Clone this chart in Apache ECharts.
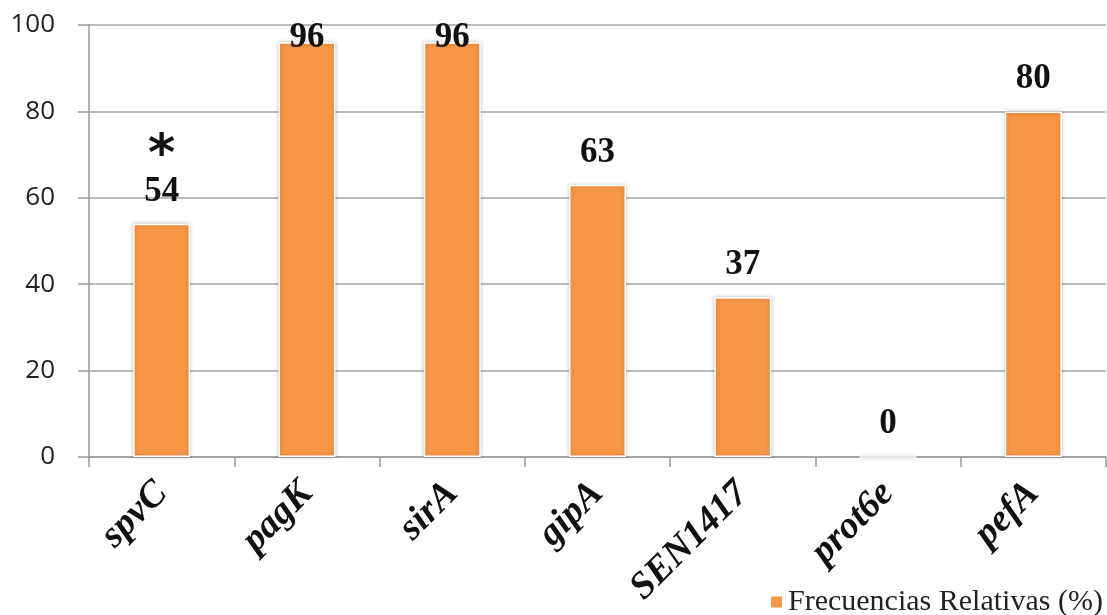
<!DOCTYPE html>
<html>
<head>
<meta charset="utf-8">
<script src="https://cdn.jsdelivr.net/npm/echarts@6/dist/echarts.min.js"></script>
<style>
  html, body { margin: 0; padding: 0; background: #ffffff; }
  #chart { width: 1107px; height: 615px; }
</style>
</head>
<body>
<div id="chart"></div>
<script>
// Virulence genes and their relative frequencies (%)
const genes = ['spvC', 'pagK', 'sirA', 'gipA', 'SEN1417', 'prot6e', 'pefA'];
const frequencies = [54, 96, 96, 63, 37, 0, 80];
const yTicks = [0, 20, 40, 60, 80, 100];
const seriesName = 'Frecuencias Relativas (%)';
const markedGenes = ['spvC'];   // genes flagged with an asterisk

const GRID_TOP = 25, GRID_BOTTOM = 158, CHART_H = 615;
const plotH = CHART_H - GRID_TOP - GRID_BOTTOM;
const yMax = yTicks[yTicks.length - 1];
const LABEL_GAP = 32;   // distance from bar top to label centre

// Keep value labels inside the plotting area (nudged down when near the top)
const barData = frequencies.map(function (v) {
  const topPx = GRID_TOP + plotH * (1 - v / yMax);
  const wanted = topPx - LABEL_GAP;
  const minCentre = GRID_TOP + 13;
  const shift = wanted < minCentre ? minCentre - wanted : 0;
  return shift ? { value: v, label: { offset: [0, shift] } } : { value: v };
});

const chart = echarts.init(document.getElementById('chart'));
chart.setOption({
  backgroundColor: '#ffffff',
  animation: false,
  grid: { left: 89, right: 1, top: GRID_TOP, bottom: GRID_BOTTOM, containLabel: false },
  legend: {
    data: [seriesName],
    left: 764,
    top: 582,
    icon: 'rect',
    itemWidth: 13,
    itemHeight: 13,
    itemGap: 8,
    textStyle: { fontFamily: 'Liberation Serif', fontSize: 30, color: '#222222' }
  },
  xAxis: {
    type: 'category',
    data: genes,
    axisLine: { lineStyle: { color: '#9a9a9a', width: 1.5 } },
    axisTick: { show: true, length: 10, lineStyle: { color: '#9a9a9a', width: 1.5 } },
    axisLabel: {
      rotate: 45,
      margin: 31,
      interval: 0,
      fontFamily: 'Liberation Serif',
      fontStyle: 'italic',
      fontWeight: 'bold',
      fontSize: 38,
      color: '#111111'
    }
  },
  yAxis: {
    type: 'value',
    min: 0,
    max: yMax,
    interval: 20,
    axisLine: { show: true, lineStyle: { color: '#9a9a9a', width: 1.5 } },
    axisTick: { show: true, inside: false, length: 11, lineStyle: { color: '#9a9a9a', width: 1.5 } },
    splitLine: { lineStyle: { color: '#a6a6a6', width: 1.5 } },
    axisLabel: {
      margin: 34,
      fontFamily: 'Open Sans',
      fontSize: 26,
      color: '#222222',
      formatter: function (v) { return yTicks.indexOf(v) >= 0 ? String(v) : ''; }
    }
  },
  series: [{
    name: seriesName,
    type: 'bar',
    data: barData,
    barWidth: 57,
    itemStyle: {
      color: '#F79646',
      borderColor: '#ffffff',
      borderWidth: 1.5,
      shadowColor: 'rgba(0,0,0,0.22)',
      shadowBlur: 4
    },
    label: {
      show: true,
      position: 'top',
      distance: 14,
      fontFamily: 'Liberation Serif',
      fontWeight: 'bold',
      fontSize: 35,
      lineHeight: 36,
      color: '#111111',
      formatter: function (p) {
        if (markedGenes.indexOf(p.name) >= 0) {
          return '{star|*}\n{v|' + p.value + '}';
        }
        return String(p.value);
      },
      rich: {
        star: {
          fontFamily: 'DejaVu Sans',
          fontWeight: 'bold',
          fontSize: 52,
          lineHeight: 22,
          color: '#111111',
          padding: [0, 0, 12, 0]
        },
        v: {
          fontFamily: 'Liberation Serif',
          fontWeight: 'bold',
          fontSize: 35,
          lineHeight: 36,
          color: '#111111'
        }
      }
    }
  }]
});
</script>
</body>
</html>
